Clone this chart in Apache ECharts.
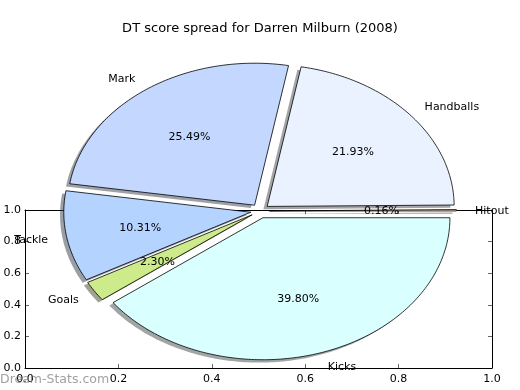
<!DOCTYPE html>
<html>
<head>
<meta charset="utf-8">
<script src="https://cdn.jsdelivr.net/npm/echarts@6/dist/echarts.min.js"></script>
<style>html,body{margin:0;padding:0;background:#fff}#c{width:520px;height:390px}</style>
</head>
<body>
<div id="c"></div>
<script>
var categories = ['Hitout', 'Handballs', 'Mark', 'Tackle', 'Goals', 'Kicks'];
var values = [0.16, 21.93, 25.49, 10.31, 2.30, 39.80];
var explode = [0.05, 0.05, 0.05, 0.05, 0.05, 0.05];
var colors = ['#ffe4c4', '#ebf2ff', '#c4d8ff', '#b4d4ff', '#cdeb8b', '#d9ffff'];
var axisTicks = [0.0, 0.2, 0.4, 0.6, 0.8, 1.0];
var titleText = 'DT score spread for Darren Milburn (2008)';
var watermark = 'Dream-Stats.com';

var FONT = '"DejaVu Sans", sans-serif';
var total = values.reduce(function (a, b) { return a + b; }, 0);

function hexRgb(h) {
  return [parseInt(h.substr(1, 2), 16), parseInt(h.substr(3, 2), 16), parseInt(h.substr(5, 2), 16)];
}

function renderItem(params, api) {
  var i = api.value(2);
  var before = 0;
  for (var k = 0; k < i; k++) before += values[k];
  var a1 = before / total * 2 * Math.PI;
  var a2 = (before + values[i]) / total * 2 * Math.PI;
  var mid = (a1 + a2) / 2;
  var ex = explode[i];
  var cx = ex * Math.cos(mid), cy = ex * Math.sin(mid);
  var n = Math.max(2, Math.ceil((a2 - a1) / (Math.PI / 180)));
  var pts = [[cx, cy]];
  for (var j = 0; j <= n; j++) {
    var a = a1 + (a2 - a1) * j / n;
    pts.push([cx + Math.cos(a), cy + Math.sin(a)]);
  }
  var wedge = pts.map(function (p) { return api.coord(p); });
  var shadow = pts.map(function (p) { return api.coord([p[0] - 0.02, p[1] - 0.02]); });
  var rgb = hexRgb(colors[i]);
  var sc = 'rgba(' + Math.round(rgb[0] * 0.3) + ',' + Math.round(rgb[1] * 0.3) + ',' + Math.round(rgb[2] * 0.3) + ',0.5)';
  var lx = cx + 1.1 * Math.cos(mid), ly = cy + 1.1 * Math.sin(mid);
  var lp = api.coord([lx, ly]);
  var pp = api.coord([cx + 0.6 * Math.cos(mid), cy + 0.6 * Math.sin(mid)]);
  return {
    type: 'group',
    children: [
      { type: 'polygon', z2: 0, shape: { points: shadow }, style: { fill: sc, stroke: null } },
      { type: 'polygon', z2: 1, shape: { points: wedge }, style: { fill: colors[i], stroke: '#000', lineWidth: 0.8 } },
      { type: 'text', z2: 3, x: lp[0], y: lp[1] + 1, style: { text: categories[i], fill: '#000', fontSize: 11, fontFamily: FONT, align: lx > 0 ? 'left' : 'right', verticalAlign: 'middle' } },
      { type: 'text', z2: 3, x: pp[0], y: pp[1] + 1, style: { text: values[i].toFixed(2) + '%', fill: '#000', fontSize: 11, fontFamily: FONT, align: 'center', verticalAlign: 'middle' } }
    ]
  };
}

var tickFmt = function (v) { return v.toFixed(1); };
var axisCommon = {
  min: 0, max: 1, interval: 0.2,
  axisLine: { show: true, onZero: false, lineStyle: { color: '#000', width: 1 } },
  axisTick: { show: true, inside: true, length: 4, lineStyle: { color: '#000', width: 0.6 } },
  splitLine: { show: false }
};

var chart = echarts.init(document.getElementById('c'), null, { renderer: 'canvas' });
chart.setOption({
  animation: false,
  backgroundColor: '#fff',
  title: {
    text: titleText, left: 'center', top: 17,
    textStyle: { fontSize: 13, fontWeight: 'normal', fontFamily: FONT, color: '#000' }
  },
  grid: [
    { left: 25, top: 210, width: 467, height: 158 },
    { left: 73, top: 69, width: 374, height: 284 }
  ],
  xAxis: [
    Object.assign({ type: 'value', gridIndex: 0, position: 'bottom',
      axisLabel: { show: true, margin: 6, fontSize: 11, fontFamily: FONT, color: '#000', formatter: tickFmt, showMinLabel: true, showMaxLabel: true } }, axisCommon),
    Object.assign({ type: 'value', gridIndex: 0, position: 'top', axisLabel: { show: false } }, axisCommon),
    { type: 'value', gridIndex: 1, min: -1, max: 1, show: false }
  ],
  yAxis: [
    Object.assign({ type: 'value', gridIndex: 0, position: 'left',
      axisLabel: { show: true, margin: 4, fontSize: 11, fontFamily: FONT, color: '#000', formatter: tickFmt, showMinLabel: true, showMaxLabel: true } }, axisCommon),
    Object.assign({ type: 'value', gridIndex: 0, position: 'right', axisLabel: { show: false } }, axisCommon),
    { type: 'value', gridIndex: 1, min: -1, max: 1, show: false }
  ],
  graphic: [
    { type: 'text', left: 0, top: 373, z: 100,
      style: { text: watermark, fill: 'rgba(128,128,128,0.75)', fontSize: 12.5, fontFamily: FONT } }
  ],
  series: [
    {
      type: 'custom',
      xAxisIndex: 2, yAxisIndex: 2,
      renderItem: renderItem,
      clip: false,
      z: 5,
      data: values.map(function (v, i) { return [0, 0, i, v]; })
    }
  ]
});
</script>
</body>
</html>
